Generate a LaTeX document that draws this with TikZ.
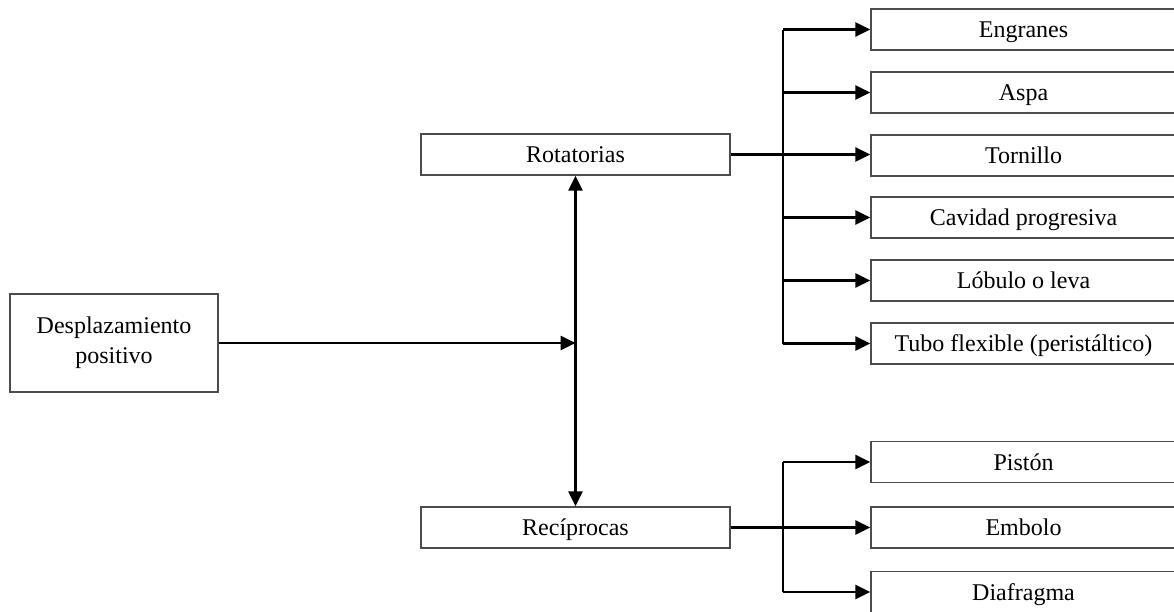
\documentclass[tikz,border=0pt]{standalone}
\usepackage{fontspec}
\setmainfont{Liberation Serif}
\usetikzlibrary{arrows.meta}
\begin{document}
\begin{tikzpicture}[x=1pt,y=-1pt,
  box/.style={draw=black!70,line width=1.3pt,rectangle,inner sep=0pt,
    font=\fontsize{24}{30}\selectfont,align=center},
  rbox/.style={box,minimum width=305pt,minimum height=41pt,text height=16pt,text depth=0pt},
  mbox/.style={box,minimum width=309pt,minimum height=41pt,text height=16pt,text depth=0pt},
  conn/.style={line width=2.6pt,black},
  tip/.tip={Triangle[length=15pt,width=14pt]},
  arr/.style={conn,-tip},
  darr/.style={conn,tip-tip}]
\useasboundingbox (0,0) rectangle (1174,611);
\node[box,minimum width=208pt,minimum height=98pt] (desp) at (114,343) {Desplazamiento\\positivo};
\node[mbox] (rot) at (575.5,154.5) {Rotatorias};
\node[mbox] (rec) at (575.5,527.5) {Recíprocas};
\node[rbox] (eng) at (1023.5,29.5) {Engranes};
\node[rbox] (asp) at (1023.5,92.5) {Aspa};
\node[rbox] (tor) at (1023.5,155.5) {Tornillo};
\node[rbox] (cav) at (1023.5,217.5) {Cavidad progresiva};
\node[rbox] (lob) at (1023.5,280.5) {Lóbulo o leva};
\node[rbox] (tub) at (1023.5,343.5) {Tubo flexible (peristáltico)};
\node[rbox] (pis) at (1023.5,462) {Pistón};
\node[rbox] (emb) at (1023.5,527.5) {Embolo};
\node[rbox] (dia) at (1023.5,592) {Diafragma};
\coordinate (bus) at (783,0);
\coordinate (j) at (rot.south |- desp.east);
\draw[arr] (desp.east) -- (j);
\draw[darr] (rot.south) -- (rec.north);
\draw[conn] (bus |- eng.west) -- (bus |- tub.west);
\draw[arr] (rot.east) -- (rot.east -| tor.west);
\foreach \n in {eng,asp,cav,lob,tub} \draw[arr] (bus |- \n.west) -- (\n.west);
\draw[conn] (bus |- pis.west) -- (bus |- dia.west);
\draw[arr] (rec.east) -- (rec.east -| emb.west);
\foreach \n in {pis,dia} \draw[arr] (bus |- \n.west) -- (\n.west);
\end{tikzpicture}
\end{document}
